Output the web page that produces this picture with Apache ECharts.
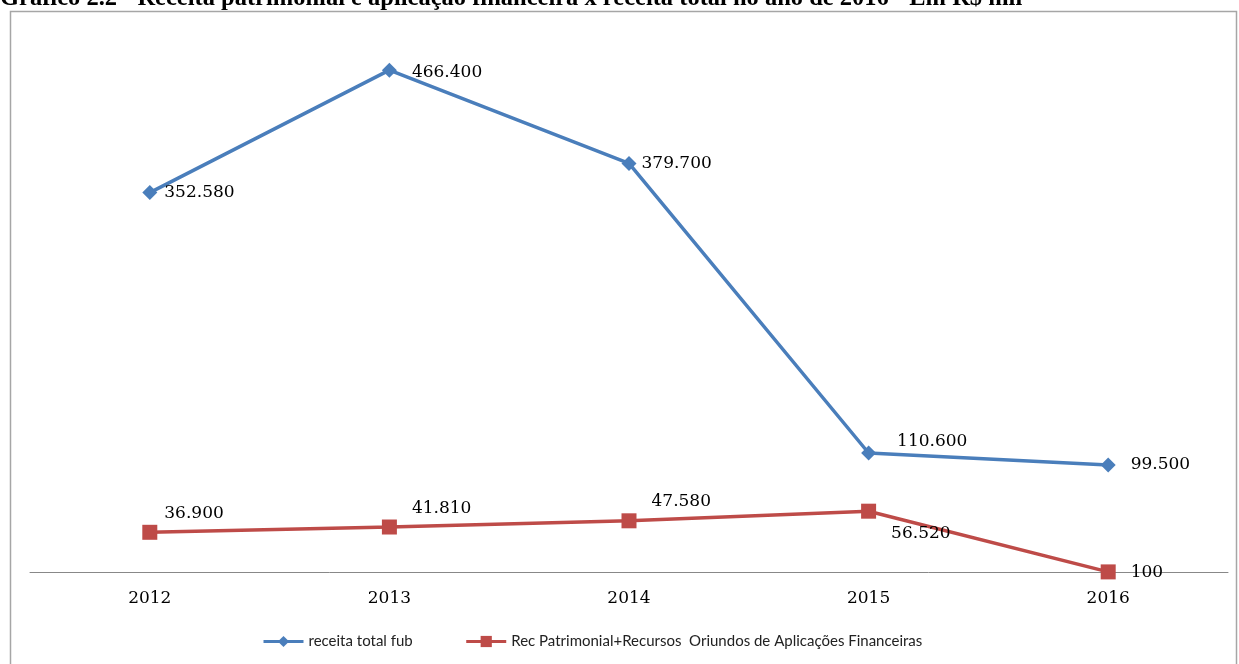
<!DOCTYPE html>
<html>
<head>
<meta charset="utf-8">
<script src="https://cdn.jsdelivr.net/npm/echarts@6/dist/echarts.min.js"></script>
<style>
  html, body { margin: 0; padding: 0; background: #fff; }
  #chart { width: 1239px; height: 664px; }
</style>
</head>
<body>
<div id="chart"></div>
<script>
const anos = ["2012", "2013", "2014", "2015", "2016"];
// valores em R$ mil
const receitaTotal = [352580, 466400, 379700, 110600, 99500];
const recPatrimonial = [36900, 41810, 47580, 56520, 100];
const nomes = ["receita total fub", "Rec Patrimonial+Recursos  Oriundos de Aplicações Financeiras"];

// posição dos rótulos (apenas estilo)
const offBlue = [[2, 0], [10, 2], [0, 0], [16, -11], [10, 0]];
const offRed = [[2, -19], [10, -18], [10, -19], [10, 22], [10, 1]];

function fmt(v) {
  return String(v).replace(/\B(?=(\d{3})+(?!\d))/g, ".");
}

const chart = echarts.init(document.getElementById("chart"));

const labelStyle = {
  show: true,
  position: "right",
  fontFamily: "DejaVu Serif",
  fontSize: 17,
  color: "#000",
  formatter: p => fmt(p.value)
};

chart.setOption({
  animation: false,
  title: {
    text: "Gráfico 2.2 - Receita patrimonial e aplicação financeira x receita total no ano de 2016 - Em R$ mil",
    left: 0,
    top: -14,
    padding: 0,
    textStyle: { fontFamily: "Liberation Serif", fontWeight: "bold", fontSize: 24.5, color: "#000" }
  },
  graphic: [{
    type: "rect",
    shape: { x: 10.5, y: 11.5, width: 1226, height: 670 },
    style: { fill: "none", stroke: "#a6a6a6", lineWidth: 1.5 },
    z: -1
  }],
  grid: { left: 30, right: 11, top: 34, bottom: 92 },
  legend: {
    bottom: 15,
    left: 262,
    padding: 0,
    itemWidth: 40,
    itemHeight: 14,
    itemGap: 52,
    lineStyle: { width: 3 },
    textStyle: { fontFamily: "Lato", fontSize: 15, color: "#222" },
    data: nomes
  },
  xAxis: {
    type: "category",
    data: anos,
    axisLine: { lineStyle: { color: "#888", width: 1 } },
    axisTick: { show: false },
    axisLabel: { fontFamily: "DejaVu Serif", fontSize: 17, color: "#000", margin: 18 }
  },
  yAxis: {
    type: "value",
    min: 0,
    max: 500000,
    show: false,
    splitLine: { show: false }
  },
  series: [
    {
      name: nomes[0],
      type: "line",
      data: receitaTotal.map((v, i) => ({ value: v, label: { offset: offBlue[i] } })),
      symbol: "diamond",
      symbolSize: 15,
      lineStyle: { color: "#4a7ebb", width: 3.5 },
      itemStyle: { color: "#4a7ebb" },
      label: labelStyle
    },
    {
      name: nomes[1],
      type: "line",
      data: recPatrimonial.map((v, i) => ({ value: v, label: { offset: offRed[i] } })),
      symbol: "rect",
      symbolSize: 15,
      lineStyle: { color: "#be4b48", width: 3.5 },
      itemStyle: { color: "#be4b48" },
      label: labelStyle
    }
  ]
});
</script>
</body>
</html>
